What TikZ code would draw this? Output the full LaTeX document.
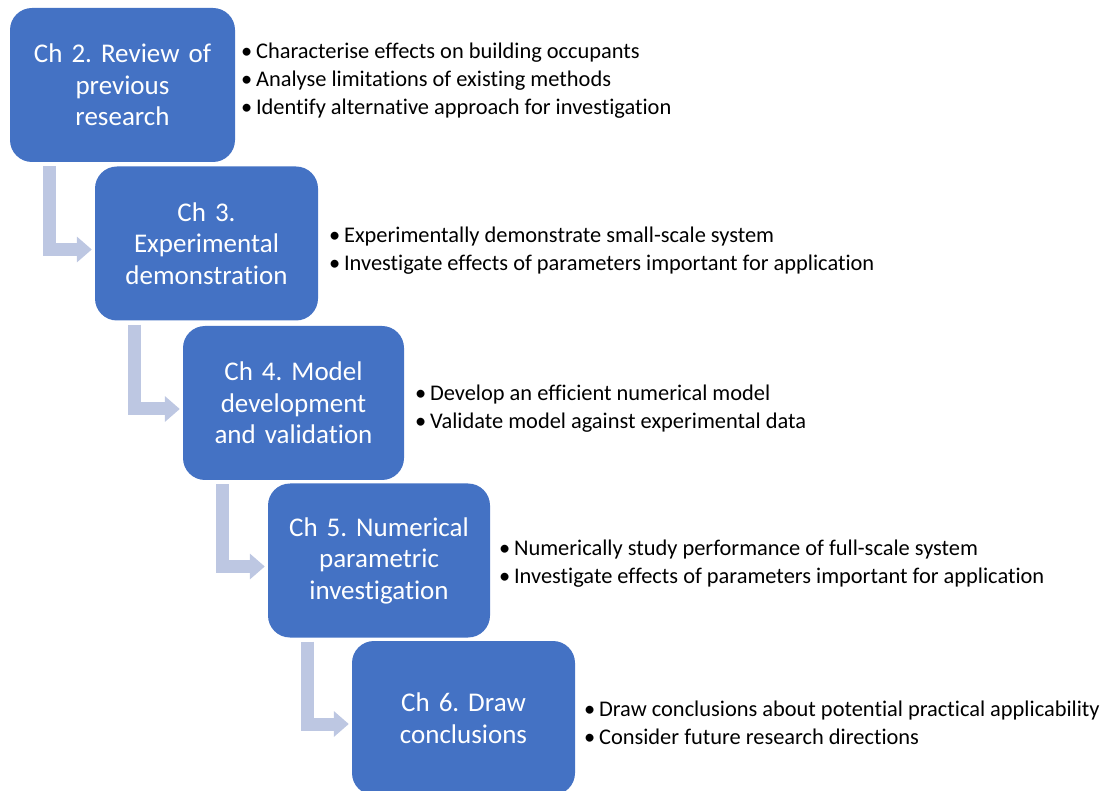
\documentclass[tikz,border=0pt]{standalone}
\usepackage{fontspec}
\setmainfont{Carlito}[Ligatures=NoCommon]
\usetikzlibrary{arrows.meta,calc}
\definecolor{boxblue}{HTML}{4472C4}
\definecolor{arrowblue}{RGB}{189,199,226}
\frenchspacing
\begin{document}
\begin{tikzpicture}[x=1pt,y=-1pt,
  chapter/.style={fill=boxblue, rounded corners=22pt, minimum width=223pt, minimum height=154pt,
    inner sep=0pt, text width=215pt, align=center, text=white,
    font=\fontsize{27}{31.5}\selectfont},
  items/.style={anchor=west, align=left, inner sep=0pt, text=black,
    font=\fontsize{22.4}{28}\selectfont},
  conn/.style={draw=arrowblue, line width=13pt, line join=miter,
    -{Triangle[width=25pt,length=15pt]}}]
\useasboundingbox (0,0) rectangle (1101,791);
\node[chapter, minimum width=225pt] (b2) at (122.5,85) {Ch 2. Review of\\previous\\research};
\node[chapter] (b3) at (206.5,243.5) {Ch 3.\\Experimental\\demonstration};
\node[chapter, minimum width=221pt] (b4) at (293.5,403) {Ch 4. Model\\development\\and validation};
\node[chapter, minimum width=222pt] (b5) at (379,560.5) {Ch 5. Numerical\\parametric\\investigation};
\node[chapter] (b6) at (463.5,718) {Ch 6. Draw\\conclusions};

\node[items] (l2) at (241,81) {•\,Characterise effects on building occupants\\•\,Analyse limitations of existing methods\\•\,Identify alternative approach for investigation};
\node[items] (l3) at (329,251) {•\,Experimentally demonstrate small-scale system\\•\,Investigate effects of parameters important for application};
\node[items] (l4) at (415,409) {•\,Develop an efficient numerical model\\•\,Validate model against experimental data};
\node[items] (l5) at (499,564) {•\,Numerically study performance of full-scale system\\•\,Investigate effects of parameters important for application};
\node[items] (l6) at (584,723) {•\,Draw conclusions about potential practical applicability\\•\,Consider future research directions};

\draw[conn] ($(b2.south west)+(39.5,4)$) |- ($(b3.west)+(-3,6)$);
\draw[conn] ($(b3.south west)+(39.5,4)$) |- ($(b4.west)+(-3,6)$);
\draw[conn] ($(b4.south west)+(39.5,4)$) |- ($(b5.west)+(-3,6)$);
\draw[conn] ($(b5.south west)+(39.5,4)$) |- ($(b6.west)+(-3,6)$);
\end{tikzpicture}
\end{document}
